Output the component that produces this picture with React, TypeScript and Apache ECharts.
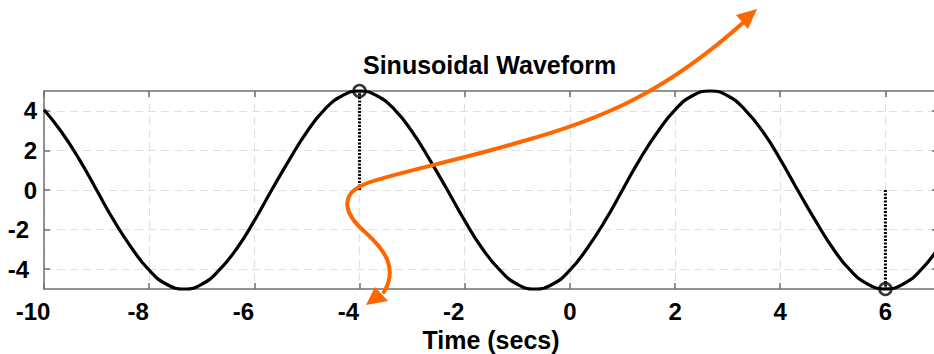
import React, { useEffect, useRef } from "react";
import * as echarts from "echarts";

// ---- data ----
const timeValues = [
  -10, -9.67, -9.33, -9, -8.67, -8.33, -8, -7.67, -7.33, -7, -6.67, -6.33, -6,
  -5.67, -5.33, -5, -4.67, -4.33, -4, -3.67, -3.33, -3, -2.67, -2.33, -2,
  -1.67, -1.33, -1, -0.67, -0.33, 0, 0.33, 0.67, 1, 1.33, 1.67, 2, 2.33, 2.67,
  3, 3.33, 3.67, 4, 4.33, 4.67, 5, 5.33, 5.67, 6, 6.33, 6.67, 7,
];
const waveValues = [
  4.05, 2.94, 1.55, 0, -1.55, -2.94, -4.05, -4.76, -5, -4.76, -4.05, -2.94,
  -1.55, 0, 1.55, 2.94, 4.05, 4.76, 5, 4.76, 4.05, 2.94, 1.55, 0, -1.55, -2.94,
  -4.05, -4.76, -5, -4.76, -4.05, -2.94, -1.55, 0, 1.55, 2.94, 4.05, 4.76, 5,
  4.76, 4.05, 2.94, 1.55, 0, -1.55, -2.94, -4.05, -4.76, -5, -4.76, -4.05,
  -2.94,
];
const peakPoint = [-4, 5];
const troughPoint = [6, -5];
const xRange = [-10, 7];
const yRange = [-5, 5];
const xTickStep = 2;
const yTickValues = [-4, -2, 0, 2, 4];
const titleText = "Sinusoidal Waveform";
const xAxisName = "Time (secs)";

// orange freehand annotation (pixel path)
const annotationPath =
  "M 384 292 C 398 268 385 250 365 232 C 345 215 338 195 365 184 C 390 174 460 160 520 142 C 600 120 665 93 745 21";

echarts.graphic.registerShape(
  "annotationCurve",
  echarts.graphic.extendPath(annotationPath, {})
);

const FONT = "'Liberation Sans', Arial, sans-serif";
const AXIS_COLOR = "#707070";
const GRID_COLOR = "#e0e0e0";
const ORANGE = "#ff6600";

export default function App() {
  const ref = useRef<HTMLDivElement>(null);

  useEffect(() => {
    if (!ref.current) return;
    const chart = echarts.init(ref.current, undefined, { renderer: "svg" });
    const wave = timeValues.map((t, i) => [t, waveValues[i]]);
    const labelStyle = {
      fontFamily: FONT,
      fontWeight: "bold" as const,
      fontSize: 24,
      color: "#000",
    };
    const tickCommon = {
      show: true,
      inside: true,
      length: 6,
      lineStyle: { color: AXIS_COLOR, width: 1.5 },
    };
    const axisLine = {
      show: true,
      onZero: false,
      lineStyle: { color: AXIS_COLOR, width: 1.5 },
    };
    const splitLine = {
      show: true,
      lineStyle: { color: GRID_COLOR, type: [8, 5], width: 1.2 },
    };
    chart.setOption({
      animation: false,
      backgroundColor: "#fff",
      title: {
        text: titleText,
        left: 358,
        top: 47,
        textStyle: { ...labelStyle, fontSize: 25 },
      },
      grid: {
        left: 44,
        right: -4,
        top: 91,
        bottom: 65,
        containLabel: false,
        outerBoundsMode: "none",
      },
      xAxis: [
        {
          type: "value",
          min: xRange[0],
          max: xRange[1],
          interval: xTickStep,
          position: "bottom",
          name: xAxisName,
          nameLocation: "middle",
          nameGap: 28,
          nameTextStyle: { ...labelStyle, fontSize: 25 },
          axisLine,
          axisTick: tickCommon,
          axisLabel: {
            ...labelStyle,
            margin: 10,
            showMaxLabel: false,
            formatter: (v: number) => (v < 0 ? `{neg|${v}}` : `${v}`),
            rich: { neg: { ...labelStyle, padding: [0, 22, 0, 0] } },
          },
          splitLine,
        },
        {
          type: "value",
          min: xRange[0],
          max: xRange[1],
          interval: xTickStep,
          position: "top",
          axisLine,
          axisTick: tickCommon,
          axisLabel: { show: false },
          splitLine: { show: false },
        },
      ],
      yAxis: [
        {
          type: "value",
          min: yRange[0],
          max: yRange[1],
          position: "left",
          axisLine,
          axisTick: { ...tickCommon, customValues: yTickValues },
          axisLabel: {
            ...labelStyle,
            margin: 7,
            customValues: yTickValues,
            formatter: (v: number) => (v < 0 ? `{neg|${v}}` : `${v}`),
            rich: { neg: { ...labelStyle, padding: [0, 8, 0, 0] } },
          },
          splitLine,
        },
        {
          type: "value",
          min: yRange[0],
          max: yRange[1],
          position: "right",
          axisLine,
          axisTick: { ...tickCommon, customValues: yTickValues },
          axisLabel: { show: false },
          splitLine: { show: false },
        },
      ],
      series: [
        {
          type: "line",
          data: wave,
          smooth: true,
          showSymbol: false,
          clip: false,
          lineStyle: { color: "#000", width: 3.2 },
          z: 3,
        },
        {
          type: "line",
          data: [[peakPoint[0], 0], peakPoint],
          showSymbol: false,
          clip: false,
          lineStyle: { color: "#000", width: 3, type: [2, 1.5] },
          z: 2,
        },
        {
          type: "line",
          data: [[troughPoint[0], 0], troughPoint],
          showSymbol: false,
          clip: false,
          lineStyle: { color: "#000", width: 3, type: [2, 1.5] },
          z: 2,
        },
        {
          type: "scatter",
          data: [peakPoint, troughPoint],
          symbol: "circle",
          symbolSize: 12,
          clip: false,
          itemStyle: { color: "none", borderColor: "#000", borderWidth: 2.5 },
          z: 4,
        },
      ],
      graphic: [
        {
          type: "annotationCurve",
          x: 0,
          y: 0,
          z: 100,
          style: {
            fill: "none",
            stroke: ORANGE,
            lineWidth: 4,
            lineCap: "round",
          },
        },
        {
          type: "polygon",
          z: 100,
          shape: {
            points: [
              [757, 9],
              [736, 15],
              [748, 29],
            ],
          },
          style: { fill: ORANGE },
        },
        {
          type: "polygon",
          z: 100,
          shape: {
            points: [
              [366, 305],
              [375, 287],
              [388, 301],
            ],
          },
          style: { fill: ORANGE },
        },
      ],
    });
    return () => chart.dispose();
  }, []);

  return (
    <div
      ref={ref}
      style={{ position: "absolute", left: 0, top: 0, width: 934, height: 354 }}
    />
  );
}
